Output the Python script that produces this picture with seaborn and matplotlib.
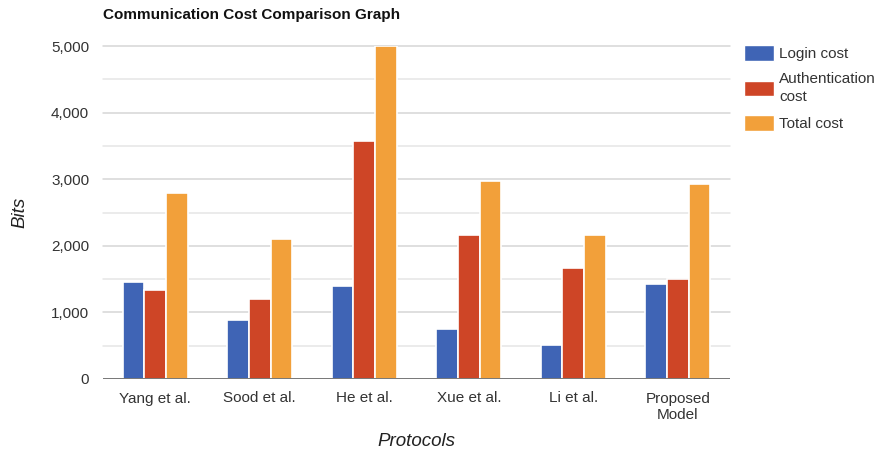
import matplotlib
matplotlib.use("Agg")
import matplotlib.pyplot as plt
import seaborn as sns
import pandas as pd
from matplotlib.patches import Patch

protocols = ["Yang et al.", "Sood et al.", "He et al.", "Xue et al.", "Li et al.", "Proposed\nModel"]
login_cost = [1460, 880, 1400, 750, 510, 1430]
auth_cost = [1335, 1205, 3575, 2160, 1660, 1500]
total_cost = [2795, 2100, 5000, 2975, 2160, 2930]
series_names = ["Login cost", "Authentication\ncost", "Total cost"]
yticks = [0, 1000, 2000, 3000, 4000, 5000]
ytick_labels = ["0", "1,000", "2,000", "3,000", "4,000", "5,000"]

colors = ["#3F64B5", "#CE4526", "#F2A03A"]

rows = []
for name, vals in zip(series_names, [login_cost, auth_cost, total_cost]):
    for p, v in zip(protocols, vals):
        rows.append({"Protocol": p, "Series": name, "Bits": v})
df = pd.DataFrame(rows)

sns.set_theme(style="white")
plt.rcParams["font.family"] = ["Liberation Sans", "DejaVu Sans"]

fig = plt.figure(figsize=(8.8, 4.55), dpi=100)
ax = fig.add_axes([103/880, 76/455, 627/880, 333/455])

sns.barplot(data=df, x="Protocol", y="Bits", hue="Series", palette=colors,
            order=protocols, hue_order=series_names, width=0.62,
            edgecolor="white", linewidth=1.2, saturation=1, ax=ax, legend=False)

ax.set_ylim(0, 5000)
ax.set_xlim(-0.5, len(protocols) - 0.5)
for y in range(500, 5001, 500):
    ax.axhline(y, color="#e6e6e6" if y % 1000 else "#d6d6d6", lw=1.1, zorder=0, clip_on=False)
ax.axhline(0, color="#777777", lw=1.4, zorder=3)
for s in ax.spines.values():
    s.set_visible(False)
ax.set_yticks(yticks)
ax.set_yticklabels(ytick_labels)
ax.tick_params(axis="both", length=0, labelsize=11, colors="#333333")
ax.tick_params(axis="y", pad=10)
ax.tick_params(axis="x", pad=9)
ax.set_xlabel("Protocols", fontsize=13.5, style="italic", color="#222222", labelpad=8)
ax.set_ylabel("Bits", fontsize=13.5, style="italic", color="#222222", labelpad=16)

fig.text(103/880, 1 - 15/455, "Communication Cost Comparison Graph", fontsize=11,
         fontweight="bold", color="#111111", va="center", ha="left")

handles = [Patch(facecolor=c, edgecolor="white") for c in colors]
leg = fig.legend(handles, series_names, loc="upper left", bbox_to_anchor=(744/880, 1 - 45/455),
                 frameon=False, fontsize=11, handlelength=1.95, handleheight=1.2,
                 handletextpad=0.35, labelspacing=0.75, borderpad=0, borderaxespad=0,
                 labelcolor="#333333")
for t in leg.get_texts():
    t.set_linespacing(1.3)

fig.savefig("out.png", dpi=100)
